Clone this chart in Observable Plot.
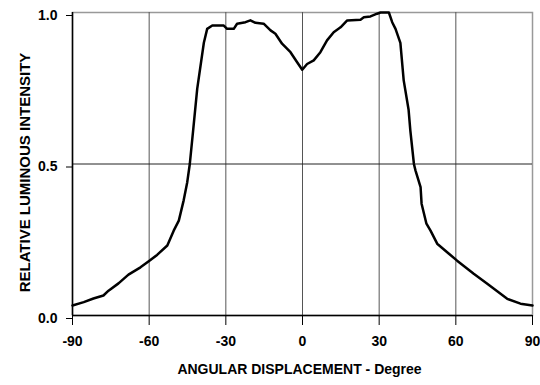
<!DOCTYPE html>
<html>
<head>
<meta charset="utf-8">
<script src="https://cdn.jsdelivr.net/npm/d3@7"></script>
<script src="https://cdn.jsdelivr.net/npm/@observablehq/plot@0.6"></script>
<style>
  html, body { margin: 0; padding: 0; background: #fff; overflow: hidden; }
  svg { display: block; }
</style>
</head>
<body>
<div id="chart"></div>
<script>
const angles = [-90, -85.6, -81.8, -77.9, -75.9, -72.0, -68.1, -63.4, -59.9, -56.9, -52.9, -50.4, -48.4, -46.5, -45.1, -44.1, -42.8, -41.2, -38.6, -37.3, -35.3, -30.8, -29.5, -26.9, -25.6, -22.3, -20.4, -18.4, -15.2, -12.5, -10.6, -8.0, -4.7, -2.1, -0.1, 1.8, 4.4, 7.0, 9.6, 12.2, 14.9, 17.5, 22.7, 24.0, 26.6, 29.2, 30.5, 33.8, 35.1, 36.4, 38.3, 39.6, 41.5, 42.2, 43.6, 44.2, 46.2, 46.6, 48.5, 50.1, 52.7, 57.3, 60.5, 67.0, 72.3, 76.2, 80.1, 85.3, 90];
const intensity = [0.033, 0.044, 0.056, 0.066, 0.082, 0.106, 0.135, 0.159, 0.181, 0.200, 0.231, 0.280, 0.313, 0.380, 0.440, 0.500, 0.610, 0.748, 0.900, 0.946, 0.957, 0.957, 0.946, 0.946, 0.963, 0.968, 0.974, 0.966, 0.963, 0.941, 0.930, 0.897, 0.869, 0.836, 0.811, 0.830, 0.842, 0.869, 0.908, 0.935, 0.951, 0.974, 0.976, 0.984, 0.987, 0.996, 1.0, 1.0, 0.968, 0.946, 0.900, 0.776, 0.680, 0.610, 0.500, 0.479, 0.424, 0.369, 0.303, 0.280, 0.237, 0.204, 0.181, 0.138, 0.105, 0.080, 0.055, 0.039, 0.033];
const xTicks = [-90, -60, -30, 0, 30, 60, 90];
const yTicks = [0, 0.5, 1.0];
const xTitle = "ANGULAR DISPLACEMENT - Degree";
const yTitle = "RELATIVE LUMINOUS INTENSITY";

const data = angles.map((a, i) => ({angle: a, value: intensity[i]}));

const chart = Plot.plot({
  width: 540,
  height: 385,
  marginLeft: 72,
  marginRight: 8,
  marginTop: 12,
  marginBottom: 70,
  style: {fontFamily: "'Liberation Sans', Arial, sans-serif", fontWeight: "bold", fontSize: "14px", color: "#000", background: "#fff"},
  x: {domain: [-90, 90]},
  y: {domain: [0, 1]},
  marks: [
    Plot.frame({stroke: "#999", strokeWidth: 1.5}),
    Plot.gridX(xTicks.slice(1, -1), {stroke: "#555", strokeOpacity: 1, strokeWidth: 1}),
    Plot.gridY([0.5], {stroke: "#222", strokeOpacity: 1, strokeWidth: 1}),
    Plot.ruleX([-90], {stroke: "#000", strokeWidth: 1.5}),
    Plot.ruleY([0], {stroke: "#000", strokeWidth: 1.5}),
    Plot.axisX({ticks: xTicks, tickSize: 10, tickPadding: 11, fontSize: 14, fontWeight: "bold", tickFormat: d => String(d), label: null}),
    Plot.axisY({ticks: yTicks, tickSize: 6, tickPadding: 9, dy: 3, fontSize: 14, fontWeight: "bold", tickFormat: d3.format(".1f"), label: null}),
    Plot.text([xTitle], {frameAnchor: "bottom", textAnchor: "middle", lineAnchor: "middle", dx: -3, dy: 54.5, fontSize: 14, fontWeight: "bold", fill: "#000"}),
    Plot.text([yTitle], {frameAnchor: "left", textAnchor: "middle", lineAnchor: "middle", rotate: -90, dx: -47, dy: 8.5, fontSize: 15, fontWeight: "bold", fill: "#000"}),
    Plot.line(data, {x: "angle", y: "value", stroke: "#000", strokeWidth: 2.5, strokeLinejoin: "round"})
  ]
});
document.getElementById("chart").appendChild(chart);
</script>
</body>
</html>
